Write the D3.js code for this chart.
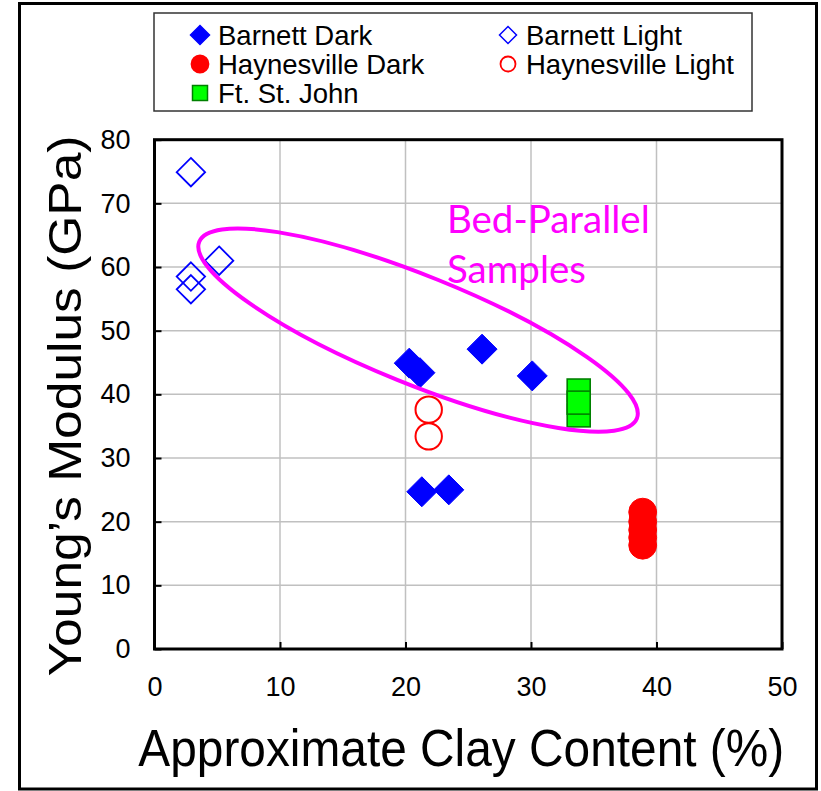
<!DOCTYPE html>
<html>
<head>
<meta charset="utf-8">
<script src="https://cdn.jsdelivr.net/npm/d3@7"></script>
<style>
  body { margin: 0; background: #fff; }
  svg { display: block; font-family: "Liberation Sans", Arial, sans-serif; }
</style>
</head>
<body>
<svg id="chart"></svg>
<script>
// Data: [clay content %, Young's modulus GPa]
const barnettDark = [[20.3, 44.9], [21.15, 43.4], [26.1, 47.1], [30.1, 42.9], [21.3, 24.7], [23.45, 25.0]];
const barnettLight = [[2.9, 74.9], [2.9, 58.5], [2.9, 56.5], [5.15, 61.0]];
const haynesvilleDark = [[38.9, 21.5], [38.9, 20.0], [38.9, 18.7], [38.9, 17.5], [38.9, 16.3]];
const haynesvilleLight = [[21.85, 37.6], [21.85, 33.4]];
const ftStJohn = [[33.8, 40.6], [33.8, 36.7], [33.8, 38.7]];

const xTicks = [0, 10, 20, 30, 40, 50];
const yTicks = [0, 10, 20, 30, 40, 50, 60, 70, 80];

// annotation ellipse centre, in data units
const ellipseCentre = [21.0, 50.1];
const annotationLines = ["Bed-Parallel", "Samples"];
const annotationAt = [23.3, 65.4];

const width = 821, height = 791;
const plot = {left: 154.5, right: 782, top: 139.7, bottom: 649};

const svg = d3.select("#chart")
  .attr("width", width)
  .attr("height", height);

// Outer frame
svg.append("rect")
  .attr("x", 19.5).attr("y", 3.5)
  .attr("width", 797).attr("height", 785.5)
  .attr("fill", "#fff")
  .attr("stroke", "#000")
  .attr("stroke-width", 3);

const x = d3.scaleLinear().domain([0, 50]).range([plot.left, plot.right]);
const y = d3.scaleLinear().domain([0, 80]).range([plot.bottom, plot.top]);

// Grid lines
svg.append("g")
  .selectAll("line.vg")
  .data(xTicks.slice(1, -1))
  .join("line")
    .attr("x1", d => x(d)).attr("x2", d => x(d))
    .attr("y1", plot.top).attr("y2", plot.bottom)
    .attr("stroke", "#c0c0c0").attr("stroke-width", 1.5);

svg.append("g")
  .selectAll("line.hg")
  .data(yTicks.slice(1, -1))
  .join("line")
    .attr("y1", d => y(d)).attr("y2", d => y(d))
    .attr("x1", plot.left).attr("x2", plot.right)
    .attr("stroke", "#c0c0c0").attr("stroke-width", 1.5);

// Axes (ticks point inwards)
const xAxis = svg.append("g")
  .attr("transform", `translate(0,${plot.bottom})`)
  .call(d3.axisBottom(x).tickValues(xTicks).tickSize(-7).tickSizeOuter(0).tickPadding(28));

const yAxis = svg.append("g")
  .attr("transform", `translate(${plot.left},0)`)
  .call(d3.axisLeft(y).tickValues(yTicks).tickSize(-7).tickSizeOuter(0).tickPadding(24));

[xAxis, yAxis].forEach(ax => {
  ax.select(".domain").remove();
  ax.selectAll(".tick line").attr("stroke", "#000").attr("stroke-width", 2);
  ax.selectAll(".tick text")
    .attr("fill", "#000")
    .style("font-size", "27px")
    .style("font-family", "'Liberation Sans', Arial, sans-serif");
});

// Plot frame
svg.append("rect")
  .attr("x", plot.left).attr("y", plot.top)
  .attr("width", plot.right - plot.left).attr("height", plot.bottom - plot.top)
  .attr("fill", "none")
  .attr("stroke", "#000")
  .attr("stroke-width", 3);

// Marker helpers
function diamond(r) {
  return `M0,${-r}L${r},0L0,${r}L${-r},0Z`;
}

function drawDiamonds(data, r, filled) {
  svg.append("g")
    .selectAll("path")
    .data(data)
    .join("path")
      .attr("transform", d => `translate(${x(d[0])},${y(d[1])})`)
      .attr("d", diamond(r))
      .attr("fill", filled ? "#0000ff" : "none")
      .attr("stroke", "#0000ff")
      .attr("stroke-width", filled ? 1 : 1.8);
}

function drawCircles(data, r, filled) {
  svg.append("g")
    .selectAll("circle")
    .data(data)
    .join("circle")
      .attr("cx", d => x(d[0]))
      .attr("cy", d => y(d[1]))
      .attr("r", r)
      .attr("fill", filled ? "#ff0000" : "none")
      .attr("stroke", "#ff0000")
      .attr("stroke-width", filled ? 1 : 2);
}

function drawSquares(data, s) {
  svg.append("g")
    .selectAll("rect")
    .data(data)
    .join("rect")
      .attr("x", d => x(d[0]) - s / 2)
      .attr("y", d => y(d[1]) - s / 2)
      .attr("width", s).attr("height", s)
      .attr("fill", "#00ff00")
      .attr("stroke", "#008000")
      .attr("stroke-width", 1.6);
}

drawDiamonds(barnettDark, 15, true);
drawDiamonds(barnettLight, 14.2, false);
drawCircles(haynesvilleDark, 13.9, true);
drawCircles(haynesvilleLight, 13.2, false);
drawSquares(ftStJohn, 23);

// Bed-parallel annotation
svg.append("ellipse")
  .attr("transform", `translate(${x(ellipseCentre[0])},${y(ellipseCentre[1])}) rotate(22)`)
  .attr("rx", 236).attr("ry", 54)
  .attr("fill", "none")
  .attr("stroke", "#ff00ff")
  .attr("stroke-width", 4);

svg.append("text")
  .attr("x", x(annotationAt[0]))
  .attr("y", y(annotationAt[1]))
  .attr("fill", "#ff00ff")
  .style("font-family", "Lato, 'Open Sans', sans-serif")
  .style("font-size", "38.5px")
  .selectAll("tspan")
  .data(annotationLines)
  .join("tspan")
    .attr("x", x(annotationAt[0]))
    .attr("dy", (d, i) => i === 0 ? 0 : 50)
    .text(d => d);

// Axis titles (the original lettering is slightly condensed)
svg.append("text")
  .attr("transform", `translate(${(plot.left + plot.right) / 2 - 7},766) scale(0.92,1)`)
  .attr("text-anchor", "middle")
  .style("font-size", "52px")
  .text("Approximate Clay Content (%)");

svg.append("text")
  .attr("transform", "translate(81,406) scale(0.88,1) rotate(-90)")
  .attr("text-anchor", "middle")
  .style("font-size", "51.5px")
  .text("Young\u2019s Modulus (GPa)");

// Legend
const legendNames = ["Barnett Dark", "Barnett Light", "Haynesville Dark", "Haynesville Light", "Ft. St. John"];
const legendShapes = ["diamondFilled", "diamondOpen", "circleFilled", "circleOpen", "square"];
const legendCol = [200, 508];
const legendRow = [35, 64, 93];

svg.append("rect")
  .attr("x", 154).attr("y", 13)
  .attr("width", 598).attr("height", 98)
  .attr("fill", "#fff")
  .attr("stroke", "#333")
  .attr("stroke-width", 1.5);

const items = svg.append("g")
  .selectAll("g")
  .data(legendNames)
  .join("g")
    .attr("transform", (d, i) => `translate(${legendCol[i % 2]},${legendRow[Math.floor(i / 2)]})`);

items.each(function(d, i) {
  const g = d3.select(this);
  const shape = legendShapes[i];
  if (shape.startsWith("diamond")) {
    g.append("path")
      .attr("d", diamond(shape === "diamondFilled" ? 9.5 : 8.5))
      .attr("fill", shape === "diamondFilled" ? "#0000ff" : "none")
      .attr("stroke", "#0000ff")
      .attr("stroke-width", 1.5);
  } else if (shape.startsWith("circle")) {
    g.append("circle")
      .attr("r", shape === "circleFilled" ? 8.5 : 7.5)
      .attr("fill", shape === "circleFilled" ? "#ff0000" : "none")
      .attr("stroke", "#ff0000")
      .attr("stroke-width", 1.8);
  } else {
    g.append("rect")
      .attr("x", -7.5).attr("y", -7.5)
      .attr("width", 15).attr("height", 15)
      .attr("fill", "#00ff00")
      .attr("stroke", "#008000")
      .attr("stroke-width", 1.5);
  }
  g.append("text")
    .attr("x", 18)
    .attr("dy", "0.35em")
    .style("font-size", "27.5px")
    .text(d);
});
</script>
</body>
</html>
